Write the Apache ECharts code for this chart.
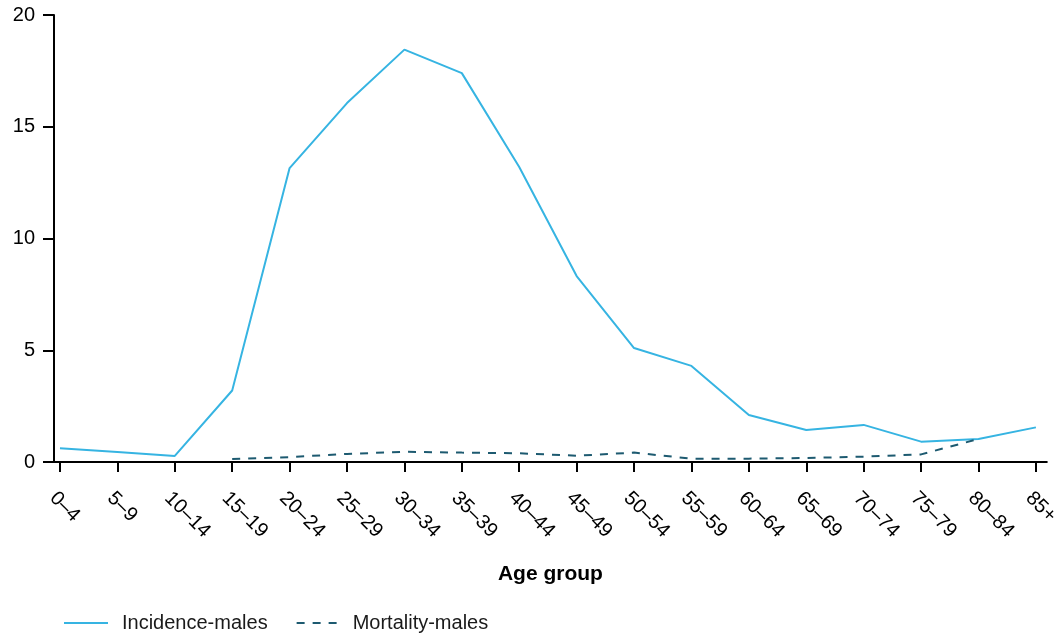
<!DOCTYPE html>
<html>
<head>
<meta charset="utf-8">
<script src="https://cdn.jsdelivr.net/npm/echarts@6/dist/echarts.min.js"></script>
<style>html,body{margin:0;padding:0;background:#fff;}#c{width:1062px;height:639px;}</style>
</head>
<body>
<div id="c"></div>
<script>
var categories = ['0–4','5–9','10–14','15–19','20–24','25–29','30–34','35–39','40–44','45–49','50–54','55–59','60–64','65–69','70–74','75–79','80–84','85+'];
var incidenceMales = [0.61, 0.45, 0.27, 3.2, 13.15, 16.06, 18.45, 17.4, 13.2, 8.32, 5.1, 4.3, 2.1, 1.43, 1.66, 0.91, 1.03, 1.55];
var mortalityMales = [null, null, null, 0.13, 0.22, 0.36, 0.46, 0.42, 0.39, 0.28, 0.42, 0.15, 0.15, 0.18, 0.24, 0.34, 1.03, null];
var yTicks = [0, 5, 10, 15, 20];

var idx = categories.map(function (c, i) { return i; });
function pairs(arr) { return arr.map(function (v, i) { return [i, v]; }); }

var font = 'Liberation Sans, Arial, sans-serif';
var chart = echarts.init(document.getElementById('c'), null, {renderer: 'canvas'});
chart.setOption({
  animation: false,
  grid: {left: 54, right: 12, top: 15, bottom: 177, containLabel: false},
  legend: {
    left: 63, top: 613, padding: 0,
    itemWidth: 44, itemHeight: 14, itemGap: 26,
    itemStyle: {opacity: 0},
    textStyle: {fontFamily: font, fontSize: 20, color: '#1a1a1a', padding: [0, 0, 0, 9]},
    data: [
      {name: 'Incidence-males'},
      {name: 'Mortality-males', lineStyle: {type: [8, 8], dashOffset: 14}}
    ]
  },
  xAxis: {
    type: 'value',
    min: -0.104, max: 17.19,
    name: 'Age group', nameLocation: 'middle', nameGap: 102,
    nameTextStyle: {fontFamily: font, fontSize: 21, fontWeight: 'bold', color: '#000'},
    axisLine: {show: true, onZero: false, lineStyle: {color: '#000', width: 2}},
    axisTick: {show: true, length: 10, customValues: idx, lineStyle: {color: '#000', width: 2}},
    axisLabel: {
      customValues: idx, rotate: -45, margin: 26, verticalAlign: 'top',
      fontFamily: font, fontSize: 20, color: '#000',
      formatter: function (v) { return categories[Math.round(v)]; }
    },
    splitLine: {show: false}
  },
  yAxis: {
    type: 'value', min: 0, max: 20, interval: 5,
    axisLine: {show: true, onZero: false, lineStyle: {color: '#000', width: 2}},
    axisTick: {show: true, length: 11, lineStyle: {color: '#000', width: 2}},
    axisLabel: {fontFamily: font, fontSize: 20, color: '#000', margin: 19,
      customValues: yTicks},
    splitLine: {show: false}
  },
  series: [
    {name: 'Incidence-males', type: 'line', symbol: 'none', data: pairs(incidenceMales),
      lineStyle: {color: '#36b4e2', width: 2}, itemStyle: {color: '#36b4e2'}},
    {name: 'Mortality-males', type: 'line', symbol: 'none', data: pairs(mortalityMales),
      lineStyle: {color: '#1d5a70', width: 2, type: [8, 8]}, itemStyle: {color: '#1d5a70'}}
  ]
});
</script>
</body>
</html>
